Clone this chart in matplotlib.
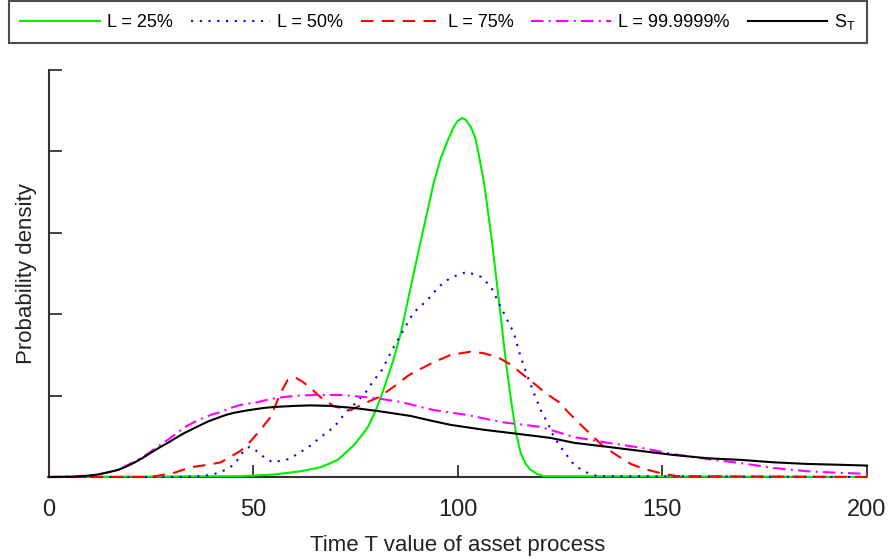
import matplotlib
matplotlib.use("Agg")
import matplotlib.pyplot as plt

plt.rcParams['font.family'] = ['Liberation Sans', 'DejaVu Sans']
plt.rcParams['mathtext.default'] = 'regular'

# ---- data ----
x_l25 = [0, 46.9, 55.0, 61.6, 66.5, 70.7, 74.6, 78.0, 80.0, 81.9, 84.1, 86.1, 88.5, 91.0,
         92.7, 94.1, 95.8, 97.6, 99.0, 99.9, 101.1, 101.9, 103.2, 104.2, 104.9, 106.4,
         108.1, 109.3, 110.5, 111.7, 113.0, 114.2, 115.4, 116.6, 117.8, 119.3, 121.0, 200]
y_l25 = [0, 0.0001, 0.0003, 0.0007, 0.0012, 0.0021, 0.0039, 0.0061, 0.0082, 0.0108, 0.0141,
         0.0177, 0.0233, 0.0291, 0.0329, 0.0361, 0.0391, 0.0414, 0.0430, 0.0437, 0.0441,
         0.0439, 0.0430, 0.0418, 0.0402, 0.0362, 0.0300, 0.0249, 0.0197, 0.0144, 0.0095,
         0.0055, 0.0029, 0.0016, 0.0009, 0.0004, 0.0001, 0]

x_l50 = [0, 32.3, 37.7, 41.6, 43.3, 45.0, 46.2, 47.7, 49.1, 50.4, 51.6, 53.1, 54.8, 56.7,
         58.7, 60.4, 63.6, 66.5, 69.7, 72.6, 75.1, 77.5, 79.5, 81.2, 84.4, 86.8, 89.2,
         92.7, 95.4, 98.3, 102.2, 105.6, 108.1, 110.0, 111.7, 113.7, 115.4, 117.1, 118.6,
         120.3, 122.0, 123.5, 125.7, 126.9, 128.1, 129.6, 131.3, 133.3, 135.5, 200]
y_l50 = [0, 0, 0.0001, 0.0005, 0.0009, 0.0014, 0.0021, 0.0032, 0.0037, 0.0034, 0.0028,
         0.0023, 0.0018, 0.0020, 0.0022, 0.0027, 0.0037, 0.0049, 0.0061, 0.0079, 0.0091,
         0.0104, 0.0119, 0.0129, 0.0160, 0.0181, 0.0202, 0.0218, 0.0234, 0.0245, 0.0252,
         0.0246, 0.0234, 0.0214, 0.0197, 0.0177, 0.0147, 0.0123, 0.0103, 0.0082, 0.0066,
         0.0049, 0.0033, 0.0025, 0.0017, 0.0011, 0.0006, 0.0002, 0.0001, 0]

x_l75 = [0, 24.9, 30.6, 34.7, 38.9, 42.1, 44.5, 46.9, 49.4, 51.8, 54.3, 56.7, 58.4, 60.4,
         62.1, 64.1, 66.5, 69.7, 73.8, 77.0, 80.7, 84.4, 88.0, 90.2, 94.1, 98.3, 103.2,
         106.4, 109.8, 113.0, 116.1, 119.6, 121.5, 124.7, 127.1, 130.1, 133.0, 135.7,
         139.1, 142.3, 145.5, 150.1, 153.8, 200]
y_l75 = [0, 0, 0.0005, 0.0012, 0.0015, 0.0018, 0.0025, 0.0032, 0.0044, 0.0058, 0.0074,
         0.0103, 0.0119, 0.0122, 0.0117, 0.0109, 0.0098, 0.0087, 0.0082, 0.0090, 0.0098,
         0.0111, 0.0125, 0.0131, 0.0141, 0.0150, 0.0154, 0.0152, 0.0147, 0.0138, 0.0125,
         0.0111, 0.0103, 0.0092, 0.0079, 0.0064, 0.0050, 0.0037, 0.0026, 0.0016, 0.0010,
         0.0004, 0.0001, 0]

x_l999 = [0, 6.1, 12.0, 16.9, 20.8, 23.0, 24.9, 26.9, 29.1, 31.1, 33.0, 35.2, 37.2, 39.6,
          42.1, 44.5, 46.9, 51.3, 54.3, 57.5, 61.6, 65.8, 71.4, 77.0, 81.2, 86.1, 91.0,
          94.1, 102.4, 110.5, 120.3, 128.4, 136.7, 144.7, 152.8, 161.1, 169.2, 177.3,
          185.6, 193.6, 200]
y_l999 = [0, 0.00004, 0.0003, 0.00086, 0.00184, 0.00246, 0.00307, 0.00381, 0.00455,
          0.00528, 0.00602, 0.00664, 0.00713, 0.00762, 0.00799, 0.00848, 0.00885, 0.00922,
          0.00959, 0.00983, 0.01002, 0.01008, 0.01008, 0.00983, 0.00959, 0.00922, 0.0086,
          0.00823, 0.00762, 0.00676, 0.00615, 0.0049, 0.0042, 0.0036, 0.0028, 0.0022,
          0.0017, 0.0011, 0.0007, 0.0005, 0.0004]

x_st = [0, 6.1, 9.0, 12.0, 14.4, 16.9, 18.8, 20.8, 23.0, 24.9, 26.9, 29.1, 31.1, 33.0,
        35.2, 37.2, 39.1, 41.3, 43.3, 45.2, 47.7, 50.1, 52.6, 55.0, 59.9, 64.1, 68.9,
        74.6, 80.4, 88.5, 93.4, 98.3, 106.4, 114.7, 122.7, 128.4, 136.7, 144.7, 152.8,
        161.1, 169.2, 177.3, 185.6, 193.6, 200]
y_st = [0, 0.00004, 0.00012, 0.0003, 0.00055, 0.00086, 0.00123, 0.00172, 0.00234,
        0.00295, 0.00356, 0.00418, 0.00479, 0.00535, 0.0059, 0.00639, 0.00685, 0.00725,
        0.00762, 0.00787, 0.00811, 0.0083, 0.00848, 0.0086, 0.00873, 0.00880, 0.00873,
        0.00848, 0.00811, 0.0075, 0.00693, 0.0064, 0.0058, 0.0053, 0.0048, 0.0042,
        0.0037, 0.0032, 0.0027, 0.0023, 0.0021, 0.0018, 0.0016, 0.0015, 0.0014]

labels = ['L = 25%', 'L = 50%', 'L = 75%', 'L = 99.9999%', r'S$_T$']
xticks = [0, 50, 100, 150, 200]
yticks = [0, 0.01, 0.02, 0.03, 0.04, 0.05]

# ---- figure ----
fig = plt.figure(figsize=(8.91, 5.58), dpi=100)
ax = fig.add_axes([48.5 / 891, 1 - 477 / 558, (867 - 48.5) / 891, (477 - 70) / 558])

kw = dict(lw=1.5, clip_on=False, zorder=3)
l1, = ax.plot(x_l25, y_l25, color='#00ee00', ls='-', label=labels[0], **kw)
l2, = ax.plot(x_l50, y_l50, color='#0000ff', ls=(0, (1, 3.2)), label=labels[1], **kw)
l3, = ax.plot(x_l75, y_l75, color='#ff0000', ls=(0, (6, 4)), label=labels[2], **kw)
l4, = ax.plot(x_l999, y_l999, color='#ff00ff', ls=(0, (6, 2.5, 1, 2.5)), label=labels[3], **kw)
l5, = ax.plot(x_st, y_st, color='#000000', ls='-', label=labels[4], **kw)

ax.set_xlim(0, 200)
ax.set_ylim(0, 0.05)
ax.set_xticks(xticks)
ax.set_yticks(yticks)
ax.set_yticklabels([])
for s in ['top', 'right']:
    ax.spines[s].set_visible(False)
for s in ['left', 'bottom']:
    ax.spines[s].set_color('#333333')
    ax.spines[s].set_linewidth(1.5)
ax.tick_params(axis='both', direction='in', length=9, width=1.3, color='#333333',
               labelsize=17, labelcolor='#222222')
ax.tick_params(axis='x', pad=16)
ax.set_xlabel('Time T value of asset process', fontsize=16, color='#222222', labelpad=10)
ax.set_ylabel('Probability density', fontsize=16, color='#222222', labelpad=4.5)

leg = fig.legend(handles=[l1, l2, l3, l4, l5], loc='upper left',
                 bbox_to_anchor=(9 / 891, 1 - 43 / 558, (867 - 9) / 891, 42 / 558),
                 mode='expand', ncol=5, fontsize=13, frameon=True, fancybox=False,
                 handlelength=4.4, handletextpad=0.4, columnspacing=0.8,
                 borderpad=0.62, borderaxespad=0)
leg.get_frame().set_edgecolor('#222222')
leg.get_frame().set_linewidth(1.5)

fig.savefig('out.png', dpi=100)
